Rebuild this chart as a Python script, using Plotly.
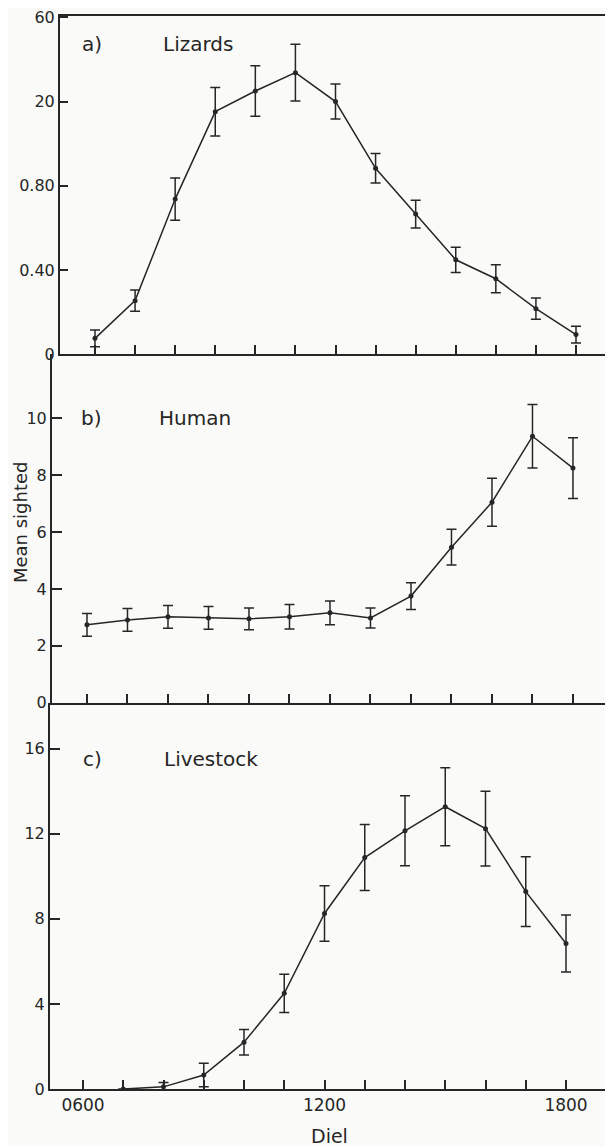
import plotly.graph_objects as go

# ---------------- data ----------------
hours = [6, 7, 8, 9, 10, 11, 12, 13, 14, 15, 16, 17, 18]

lizards_mean = [0.076, 0.255, 0.737, 1.152, 1.25, 1.337, 1.20, 0.883, 0.666, 0.449, 0.359, 0.217, 0.094]
lizards_err = [0.04, 0.05, 0.10, 0.115, 0.12, 0.135, 0.083, 0.07, 0.066, 0.06, 0.066, 0.05, 0.04]

human_mean = [2.74, 2.91, 3.02, 2.98, 2.95, 3.02, 3.16, 2.98, 3.75, 5.47, 7.05, 9.37, 8.25]
human_err = [0.40, 0.40, 0.40, 0.40, 0.38, 0.43, 0.42, 0.35, 0.47, 0.63, 0.84, 1.12, 1.07]

livestock_hours = [7, 8, 9, 10, 11, 12, 13, 14, 15, 16, 17, 18]
livestock_mean = [0.0, 0.1, 0.66, 2.2, 4.5, 8.25, 10.88, 12.14, 13.27, 12.24, 9.28, 6.84]
livestock_err = [0.0, 0.2, 0.55, 0.6, 0.9, 1.3, 1.55, 1.65, 1.83, 1.76, 1.64, 1.34]

lizards_ticks = [0, 0.4, 0.8, 1.2, 1.6]
lizards_ticktext = ["0", "0.40", "0.80", "20", "60"]
human_ticks = [0, 2, 4, 6, 8, 10]
livestock_ticks = [0, 4, 8, 12, 16]
x_ticktext = ["0600", "", "", "", "", "", "1200", "", "", "", "", "", "1800"]

panel_letters = ["a)", "b)", "c)"]
panel_names = ["Lizards", "Human", "Livestock"]

# ---------------- layout geometry (screen pixels) ----------------
OFF = 8                      # default page body margin
W, H = 613 - OFF, 1146 - OFF
TOP, BOT = 14, 1089          # screen y of panel a top and panel c bottom
PH = BOT - TOP


def fy(py):
    return (BOT - py) / PH


def fx(px):
    return (px - OFF) / W


INK = "#262626"
BG = "#fafaf8"
FONT = "DejaVu Sans"

fig = go.Figure()


def add_series(x, y, e, xa, ya):
    fig.add_trace(go.Scatter(
        x=x, y=y, mode="lines+markers",
        line=dict(color=INK, width=1.5),
        marker=dict(color=INK, size=5),
        error_y=dict(type="data", array=e, visible=True, color=INK,
                     thickness=1.5, width=5),
        xaxis=xa, yaxis=ya, showlegend=False, hoverinfo="x+y",
    ))


add_series(hours, lizards_mean, lizards_err, "x", "y")
add_series(hours, human_mean, human_err, "x2", "y2")
add_series(livestock_hours, livestock_mean, livestock_err, "x3", "y3")

axis_common = dict(showline=True, linecolor=INK, linewidth=2, showgrid=False,
                   zeroline=False, ticks="inside", tickcolor=INK, tickwidth=1.5,
                   ticklabeloverflow="allow",
                   tickfont=dict(family=FONT, size=16, color=INK))

xcommon = dict(axis_common, tickvals=hours, ticklen=9)

fig.update_layout(
    width=W, height=H,
    margin=dict(l=0, r=0, t=TOP - OFF, b=1146 - BOT),
    paper_bgcolor=BG, plot_bgcolor=BG,
    font=dict(family=FONT, color=INK),
    xaxis=dict(xcommon, domain=[fx(60), 1.0], range=[5.127, 18.923],
               showticklabels=False, mirror=True, anchor="y"),
    yaxis=dict(axis_common, domain=[fy(353), fy(14)], range=[0, 1.606],
               tickvals=lizards_ticks, ticktext=lizards_ticktext, ticklen=8,
               anchor="x"),
    xaxis2=dict(xcommon, domain=[fx(52), fx(610)], range=[5.136, 18.914],
                showticklabels=False, anchor="y2"),
    yaxis2=dict(axis_common, domain=[fy(702), fy(353)], range=[0, 12.25],
                tickvals=human_ticks, ticklen=10, mirror=True, anchor="x2"),
    xaxis3=dict(xcommon, domain=[fx(50), fx(605)], range=[5.18, 18.969],
                ticktext=x_ticktext, tickfont=dict(family=FONT, size=17, color=INK),
                anchor="y3"),
    yaxis3=dict(axis_common, domain=[fy(BOT), fy(702)], range=[0, 18.16],
                tickvals=livestock_ticks, ticklen=10, mirror=True, anchor="x3"),
)


def label(px, py, text, size, angle=0):
    fig.add_annotation(x=fx(px), y=fy(py), xref="paper", yref="paper",
                       xanchor="center", yanchor="middle", text=text,
                       textangle=angle, showarrow=False,
                       font=dict(family=FONT, size=size, color=INK))


letter_pos = [(92, 42), (91, 417), (92, 758)]
name_pos = [(198, 42), (195, 417), (211, 758)]
for i in range(3):
    label(letter_pos[i][0], letter_pos[i][1], panel_letters[i], 20)
    label(name_pos[i][0], name_pos[i][1], panel_names[i], 20)

label(20, 521, "Mean sighted", 18, angle=-90)
label(329, 1136, "Diel", 19)

fig.write_html("out.html")
